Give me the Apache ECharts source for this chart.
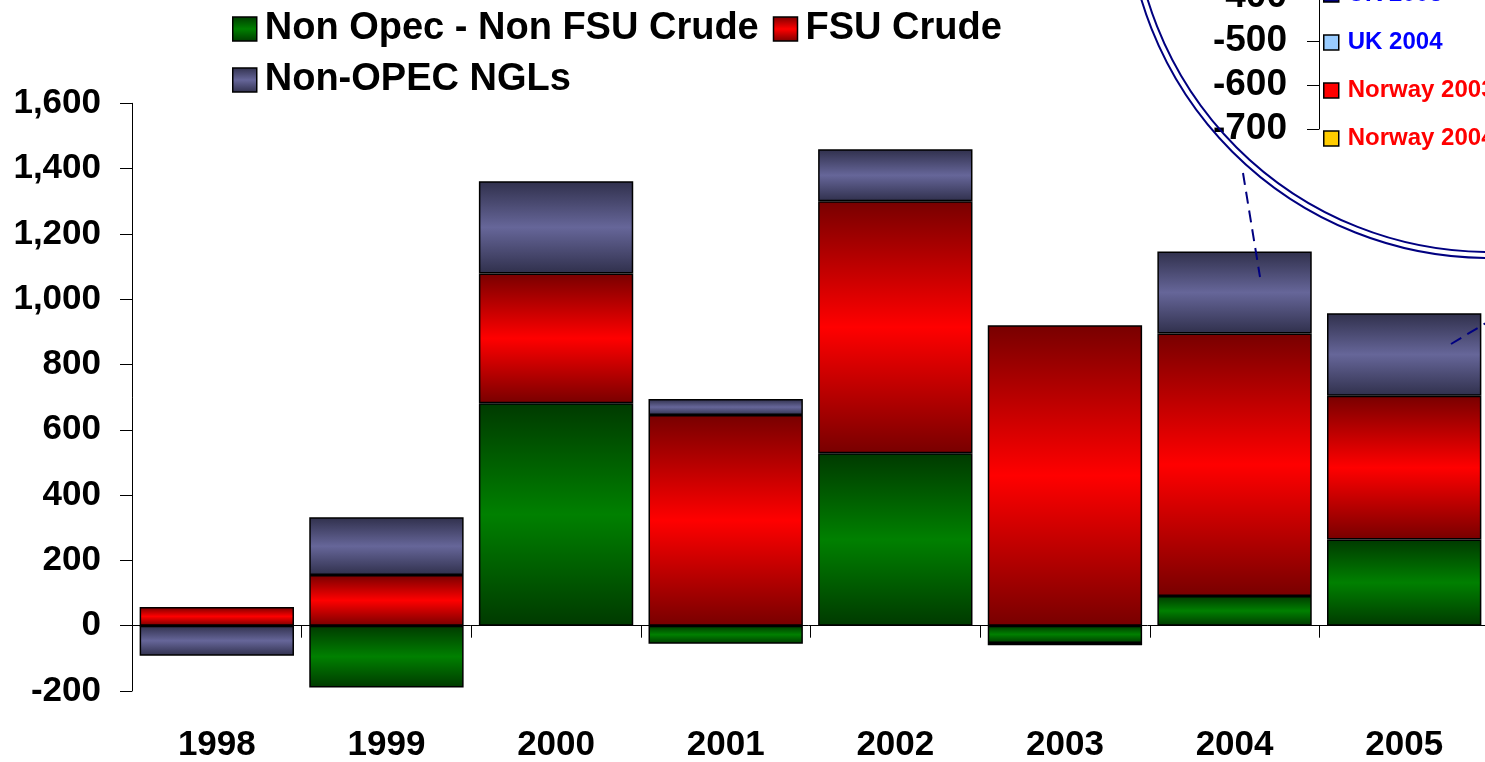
<!DOCTYPE html>
<html><head><meta charset="utf-8">
<script src="https://cdn.jsdelivr.net/npm/echarts@6/dist/echarts.min.js"></script>
<style>html,body{margin:0;padding:0;background:#fff;overflow:hidden}#c{width:1485px;height:762px}</style>
</head><body><div id="c"></div>
<script>
// ---- data ----
const categories = ['1998', '1999', '2000', '2001', '2002', '2003', '2004', '2005'];
const nonOpecNonFsuCrude = [0, -189, 681, -55, 528, -53, 91, 264];
const fsuCrude = [57, 155, 398, 645, 772, 920, 804, 440];
const nonOpecNgls = [-92, 177, 282, 49, 159, -7, 251, 253];
const seriesNames = ['Non Opec - Non FSU Crude', 'FSU Crude', 'Non-OPEC NGLs'];
const yTicks = { min: -200, max: 1600, interval: 200 };
// magnified inset (only its axis and legend are visible)
const insetNames = ['UK 2003', 'UK 2004', 'Norway 2003', 'Norway 2004'];
const insetTicks = { min: -700, max: -400, interval: 100 };

const FONT = "'Liberation Sans', Arial, sans-serif";
function grad(dark, bright) {
  return new echarts.graphic.LinearGradient(0, 0, 0, 1, [
    { offset: 0, color: dark }, { offset: 0.5, color: bright }, { offset: 1, color: dark }
  ]);
}
const fills = [grad('#003a00', '#008000'), grad('#780000', '#ff0000'), grad('#30304c', '#666699')];
const insetColors = ['#000080', '#99ccff', '#ff0000', '#ffcc00'];
const insetTextColors = ['#0000ff', '#0000ff', '#ff0000', '#ff0000'];
const mainValues = [nonOpecNonFsuCrude, fsuCrude, nonOpecNgls];

const chart = echarts.init(document.getElementById('c'), null, { renderer: 'canvas' });

const mainSeries = seriesNames.map((n, i) => ({
  name: n, type: 'bar', stack: 'total', xAxisIndex: 0, yAxisIndex: 0,
  barCategoryGap: '9%', data: mainValues[i],
  itemStyle: { color: fills[i], borderColor: '#000', borderWidth: 1.5 },
  emphasis: { disabled: true }
}));
const insetSeries = insetNames.map((n, i) => ({
  name: n, type: 'bar', xAxisIndex: 2, yAxisIndex: 1, data: [],
  itemStyle: { color: insetColors[i], borderColor: '#000', borderWidth: 1.5 }
}));

const mainLegendText = { fontFamily: FONT, fontSize: 38, fontWeight: 'bold', color: '#000', lineHeight: 40, padding: [0, 0, 0, 3] };

const option = {
  animation: false,
  backgroundColor: '#fff',
  textStyle: { fontFamily: FONT },
  grid: [
    { left: 132, right: -4, top: 103.3, bottom: 71, outerBoundsMode: 'none', containLabel: false },
    { left: 1319, top: -3, height: 132, width: 120, outerBoundsMode: 'none', containLabel: false }
  ],
  legend: [
    {
      data: seriesNames.slice(0, 2), left: 232, top: 9, padding: 0, itemGap: 14,
      icon: 'rect', itemWidth: 24, itemHeight: 24, selectedMode: false,
      itemStyle: { borderColor: '#000', borderWidth: 1.5 },
      textStyle: mainLegendText
    },
    {
      data: seriesNames.slice(2), left: 232, top: 60, padding: 0,
      icon: 'rect', itemWidth: 24, itemHeight: 24, selectedMode: false,
      itemStyle: { borderColor: '#000', borderWidth: 1.5 },
      textStyle: mainLegendText
    },
    {
      data: insetNames.map((n, i) => ({ name: n, textStyle: { color: insetTextColors[i] } })),
      orient: 'vertical', left: 1323, top: -18.5, padding: 0, itemGap: 22,
      icon: 'rect', itemWidth: 15, itemHeight: 15, selectedMode: false,
      itemStyle: { borderColor: '#000', borderWidth: 1.5 },
      textStyle: { fontFamily: FONT, fontSize: 24, fontWeight: 'bold', lineHeight: 26, padding: [0, 0, 0, 4] }
    }
  ],
  xAxis: [
    {
      type: 'category', gridIndex: 0, data: categories,
      axisLine: { onZero: true, lineStyle: { color: '#000', width: 1 } },
      axisTick: { show: true, length: 12, lineStyle: { color: '#000' } },
      axisLabel: { show: false }
    },
    {
      type: 'category', gridIndex: 0, data: categories, position: 'bottom',
      axisLine: { show: false, onZero: false }, axisTick: { show: false },
      axisLabel: { fontFamily: FONT, fontSize: 35, fontWeight: 'bold', color: '#000', margin: 37 }
    },
    { type: 'category', gridIndex: 1, data: [], show: false }
  ],
  yAxis: [
    {
      type: 'value', gridIndex: 0, min: yTicks.min, max: yTicks.max, interval: yTicks.interval,
      axisLine: { show: true, lineStyle: { color: '#000', width: 1 } },
      axisTick: { show: true, length: 12, lineStyle: { color: '#000' } },
      splitLine: { show: false },
      axisLabel: {
        fontFamily: FONT, fontSize: 35, fontWeight: 'bold', color: '#000', margin: 31,
        formatter: v => v.toLocaleString('en-US')
      }
    },
    {
      type: 'value', gridIndex: 1, min: insetTicks.min, max: insetTicks.max, interval: insetTicks.interval,
      axisLine: { show: true, lineStyle: { color: '#000', width: 1 } },
      axisTick: { show: true, length: 12, lineStyle: { color: '#000' } },
      splitLine: { show: false },
      axisLabel: { fontFamily: FONT, fontSize: 37, fontWeight: 'bold', color: '#000', margin: 32 }
    }
  ],
  series: mainSeries.concat(insetSeries),
  graphic: [
    { type: 'circle', z: 100, shape: { cx: 1489, cy: -105, r: 363 }, style: { fill: 'none', stroke: '#000080', lineWidth: 2 } },
    { type: 'circle', z: 100, shape: { cx: 1489, cy: -105, r: 357 }, style: { fill: 'none', stroke: '#000080', lineWidth: 2 } },
    { type: 'line', z: 100, shape: { x1: 1243, y1: 173, x2: 1260, y2: 277 }, style: { stroke: '#000080', lineWidth: 2, lineDash: [12, 7] } },
    { type: 'line', z: 100, shape: { x1: 1451, y1: 344, x2: 1486, y2: 323 }, style: { stroke: '#000080', lineWidth: 2, lineDash: [12, 7] } }
  ]
};
chart.setOption(option);
</script>
</body></html>
